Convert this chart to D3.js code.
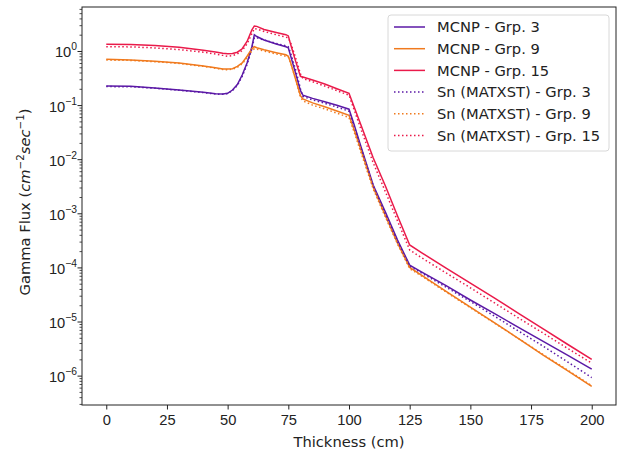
<!DOCTYPE html>
<html>
<head>
<meta charset="utf-8">
<script src="https://cdn.jsdelivr.net/npm/d3@7"></script>
<style>
  body { margin: 0; background: #fff; }
  svg { font-family: "DejaVu Sans", sans-serif; }
</style>
</head>
<body>
<div id="chart"></div>
<script>
// thickness positions (cm)
const thickness = [0, 10, 20, 30, 40, 45, 48, 50, 52, 54, 56, 58, 60, 61, 62, 65, 70, 74, 75, 76, 78, 80, 81,
  85, 90, 95, 100, 102, 105, 110, 115, 120, 125, 130, 140, 150, 160, 170, 180, 190, 200];

const mcnp3 = [0.225, 0.222, 0.208, 0.19, 0.172, 0.162, 0.16, 0.165, 0.19, 0.24, 0.36, 0.6, 1.2, 2.0, 1.85, 1.6, 1.35,
  1.2, 1.15, 0.8, 0.39, 0.185, 0.152, 0.133, 0.115, 0.099, 0.084, 0.045, 0.0166, 3.3e-3, 1.05e-3, 3.2e-4, 1.1e-4,
  8.2e-5, 4.6e-5, 2.5e-5, 1.4e-5, 7.7e-6, 4.3e-6, 2.4e-6, 1.32e-6];
const mcnp9 = [0.70, 0.68, 0.645, 0.6, 0.53, 0.49, 0.465, 0.465, 0.47, 0.52, 0.6, 0.8, 1.1, 1.2, 1.15, 1.05, 0.93,
  0.85, 0.8, 0.6, 0.3, 0.15, 0.13, 0.11, 0.093, 0.078, 0.065, 0.036, 0.0145, 3.0e-3, 9e-4, 2.8e-4, 1.0e-4,
  7.1e-5, 3.6e-5, 1.85e-5, 9.4e-6, 4.8e-6, 2.4e-6, 1.24e-6, 6.3e-7];
const mcnp15 = [1.33, 1.32, 1.26, 1.17, 1.03, 0.96, 0.91, 0.89, 0.9, 0.95, 1.1, 1.5, 2.45, 2.9, 2.85, 2.5, 2.2,
  2.0, 1.9, 1.3, 0.65, 0.34, 0.33, 0.29, 0.245, 0.2, 0.165, 0.095, 0.042, 0.0105, 3.2e-3, 8.9e-4, 2.6e-4,
  1.86e-4, 9.7e-5, 5.1e-5, 2.7e-5, 1.4e-5, 7.3e-6, 3.8e-6, 2.0e-6];

const sn3 = [0.22, 0.218, 0.205, 0.188, 0.17, 0.16, 0.158, 0.163, 0.185, 0.23, 0.34, 0.56, 1.1, 1.75, 1.75, 1.6, 1.38,
  1.25, 1.2, 0.9, 0.45, 0.2, 0.145, 0.125, 0.108, 0.092, 0.077, 0.042, 0.016, 3.2e-3, 9.5e-4, 3.0e-4, 1.05e-4,
  7.8e-5, 4.3e-5, 2.35e-5, 1.25e-5, 6.6e-6, 3.5e-6, 1.8e-6, 9.2e-7];
const sn9 = [0.68, 0.67, 0.635, 0.59, 0.52, 0.48, 0.455, 0.45, 0.46, 0.5, 0.58, 0.75, 1.0, 1.1, 1.08, 1.0, 0.88,
  0.8, 0.77, 0.6, 0.3, 0.14, 0.12, 0.1, 0.085, 0.071, 0.059, 0.033, 0.013, 2.8e-3, 8.5e-4, 2.7e-4, 9.5e-5,
  6.9e-5, 3.5e-5, 1.8e-5, 9.3e-6, 4.8e-6, 2.45e-6, 1.27e-6, 6.5e-7];
const sn15 = [1.2, 1.19, 1.14, 1.06, 0.95, 0.88, 0.83, 0.8, 0.82, 0.88, 1.02, 1.35, 2.1, 2.6, 2.55, 2.3, 2.0,
  1.8, 1.75, 1.4, 0.75, 0.38, 0.31, 0.27, 0.225, 0.185, 0.152, 0.085, 0.035, 8.5e-3, 2.5e-3, 7.2e-4, 2.1e-4,
  1.5e-4, 7.9e-5, 4.2e-5, 2.2e-5, 1.15e-5, 6.1e-6, 3.2e-6, 1.7e-6];

const xTicks = [0, 25, 50, 75, 100, 125, 150, 175, 200];
const yExponents = [0, -1, -2, -3, -4, -5, -6];

const purple = '#5b19a6', orange = '#f07a1e', red = '#ea1a4a';

const series = [
  { label: 'MCNP - Grp. 3', values: mcnp3, color: purple, dotted: false },
  { label: 'MCNP - Grp. 9', values: mcnp9, color: orange, dotted: false },
  { label: 'MCNP - Grp. 15', values: mcnp15, color: red, dotted: false },
  { label: 'Sn (MATXST) - Grp. 3', values: sn3, color: purple, dotted: true },
  { label: 'Sn (MATXST) - Grp. 9', values: sn9, color: orange, dotted: true },
  { label: 'Sn (MATXST) - Grp. 15', values: sn15, color: red, dotted: true },
];

const width = 619;
const height = 452;
const margin = { top: 7, right: 3, bottom: 47, left: 82 };
const plot = {
  left: margin.left,
  right: width - margin.right,
  top: margin.top,
  bottom: height - margin.bottom,
};

const svg = d3.select('#chart').append('svg')
  .attr('width', width)
  .attr('height', height);

const xScale = d3.scaleLinear().domain([-10, 210]).range([plot.left, plot.right]);
const yScale = d3.scaleLog()
  .domain([Math.pow(10, -6.543), Math.pow(10, 0.813)])
  .range([plot.bottom, plot.top]);

svg.append('defs').append('clipPath').attr('id', 'clip')
  .append('rect')
  .attr('x', plot.left).attr('y', plot.top)
  .attr('width', plot.right - plot.left).attr('height', plot.bottom - plot.top);

// lines
const line = d3.line()
  .x((d) => xScale(d[0]))
  .y((d) => yScale(d[1]));

const lines = svg.append('g').attr('clip-path', 'url(#clip)');
series.forEach((s) => {
  lines.append('path')
    .datum(thickness.map((t, i) => [t, s.values[i]]))
    .attr('d', line)
    .attr('fill', 'none')
    .attr('stroke', s.color)
    .attr('stroke-width', 1.5)
    .attr('stroke-dasharray', s.dotted ? '1.5,2.5' : null);
});

// x axis
const xAxis = svg.append('g')
  .attr('transform', `translate(0, ${plot.bottom})`)
  .call(d3.axisBottom(xScale).tickValues(xTicks).tickSize(4.5).tickPadding(5));
xAxis.select('.domain').remove();
xAxis.selectAll('line').attr('stroke', '#222').attr('stroke-width', 1);
xAxis.selectAll('text').attr('font-size', 14.7).attr('fill', '#222');

// y axis minor ticks
const minor = [];
for (let e = -7; e <= 0; e++) {
  for (let m = 2; m <= 9; m++) {
    const v = m * Math.pow(10, e);
    if (v >= yScale.domain()[0] && v <= yScale.domain()[1]) minor.push(v);
  }
}
const yMinor = svg.append('g')
  .attr('transform', `translate(${plot.left}, 0)`)
  .call(d3.axisLeft(yScale).tickValues(minor).tickSize(2.5).tickFormat(''));
yMinor.select('.domain').remove();
yMinor.selectAll('line').attr('stroke', '#222').attr('stroke-width', 0.8);

// y axis major ticks
const yMajor = svg.append('g')
  .attr('transform', `translate(${plot.left}, 0)`)
  .call(d3.axisLeft(yScale).tickValues(yExponents.map((e) => Math.pow(10, e))).tickSize(4.5).tickFormat(''));
yMajor.select('.domain').remove();
yMajor.selectAll('line').attr('stroke', '#222').attr('stroke-width', 1);

yMajor.selectAll('.tick').each(function (d) {
  const e = Math.round(Math.log10(d));
  const t = d3.select(this).append('text')
    .attr('x', -5)
    .attr('y', 6)
    .attr('text-anchor', 'end')
    .attr('fill', '#222')
    .attr('font-size', 14.7);
  t.append('tspan').text('10');
  t.append('tspan')
    .attr('font-size', 10.3)
    .attr('dy', -7)
    .text(e === 0 ? '0' : '\u2212' + Math.abs(e));
});

// frame
svg.append('rect')
  .attr('x', plot.left).attr('y', plot.top)
  .attr('width', plot.right - plot.left).attr('height', plot.bottom - plot.top)
  .attr('fill', 'none')
  .attr('stroke', '#222')
  .attr('stroke-width', 1);

// axis labels
svg.append('text')
  .attr('x', (plot.left + plot.right) / 2)
  .attr('y', 447)
  .attr('text-anchor', 'middle')
  .attr('font-size', 14.7)
  .attr('fill', '#222')
  .text('Thickness (cm)');

const yLabel = svg.append('text')
  .attr('transform', `translate(30, ${(plot.top + plot.bottom) / 2 - 4}) rotate(-90)`)
  .attr('text-anchor', 'middle')
  .attr('font-size', 14.7)
  .attr('fill', '#222');
yLabel.append('tspan').text('Gamma Flux (');
yLabel.append('tspan').attr('font-style', 'italic').text('cm');
yLabel.append('tspan').attr('font-size', 10.3).attr('dy', -6).text('\u22122');
yLabel.append('tspan').attr('font-style', 'italic').attr('dy', 6).text('sec');
yLabel.append('tspan').attr('font-size', 10.3).attr('dy', -6).text('\u22121');
yLabel.append('tspan').attr('dy', 6).text(')');

// legend
const legend = svg.append('g');
legend.append('rect')
  .attr('x', 388).attr('y', 15)
  .attr('width', 221).attr('height', 136)
  .attr('rx', 3)
  .attr('fill', '#fff')
  .attr('fill-opacity', 0.8)
  .attr('stroke', '#d8d8d8')
  .attr('stroke-width', 1);

series.forEach((s, i) => {
  const y = 27 + i * 21.7;
  legend.append('line')
    .attr('x1', 394).attr('x2', 425)
    .attr('y1', y).attr('y2', y)
    .attr('stroke', s.color)
    .attr('stroke-width', 1.5)
    .attr('stroke-dasharray', s.dotted ? '1.5,2.5' : null);
  legend.append('text')
    .attr('x', 437).attr('y', y)
    .attr('dy', '0.36em')
    .attr('font-size', 14.7)
    .attr('fill', '#222')
    .text(s.label);
});
</script>
</body>
</html>
